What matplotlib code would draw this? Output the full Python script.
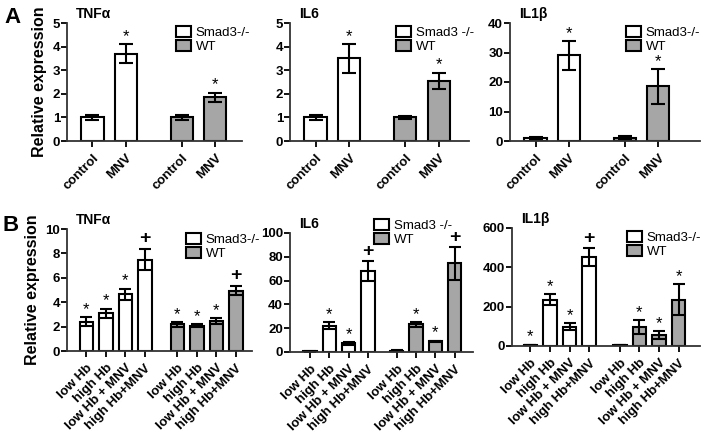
import numpy as np
import matplotlib
matplotlib.use("Agg")
import matplotlib.pyplot as plt

plt.rcParams['font.family'] = ['Liberation Sans', 'DejaVu Sans']

# ---- Daten Panel A ----
a_labels = ["control", "MNV"]
a_tnf_smad = [1.0, 3.7]
a_tnf_smad_err = [0.12, 0.4]
a_tnf_wt = [1.0, 1.85]
a_tnf_wt_err = [0.1, 0.2]
a_tnf_smad_mark = ["", "*"]
a_tnf_wt_mark = ["", "*"]

a_il6_smad = [1.0, 3.5]
a_il6_smad_err = [0.12, 0.6]
a_il6_wt = [1.0, 2.55]
a_il6_wt_err = [0.05, 0.35]
a_il6_smad_mark = ["", "*"]
a_il6_wt_mark = ["", "*"]

a_il1_smad = [1.0, 29.0]
a_il1_smad_err = [0.3, 4.8]
a_il1_wt = [1.0, 18.5]
a_il1_wt_err = [0.7, 6.0]
a_il1_smad_mark = ["", "*"]
a_il1_wt_mark = ["", "*"]

# ---- Daten Panel B ----
b_labels = ["low Hb", "high Hb", "low Hb + MNV", "high Hb+MNV"]
b_tnf_smad = [2.4, 3.08, 4.67, 7.5]
b_tnf_smad_err = [0.38, 0.4, 0.45, 0.9]
b_tnf_wt = [2.2, 2.09, 2.47, 4.95]
b_tnf_wt_err = [0.2, 0.15, 0.25, 0.4]
b_tnf_smad_mark = ["*", "*", "*", "+"]
b_tnf_wt_mark = ["*", "*", "*", "+"]

b_il6_smad = [0.5, 22.0, 7.5, 68.0]
b_il6_smad_err = [0.2, 2.8, 1.2, 8.4]
b_il6_wt = [1.0, 23.4, 8.9, 74.4]
b_il6_wt_err = [0.3, 2.0, 0.7, 13.6]
b_il6_smad_mark = ["", "*", "*", "+"]
b_il6_wt_mark = ["", "*", "*", "+"]

b_il1_smad = [5.0, 236.0, 98.0, 452.0]
b_il1_smad_err = [2.0, 28.0, 17.0, 45.0]
b_il1_wt = [5.0, 98.0, 56.0, 236.0]
b_il1_wt_err = [2.0, 36.0, 22.0, 78.0]
b_il1_smad_mark = ["*", "*", "*", "+"]
b_il1_wt_mark = ["", "*", "*", "*"]

W = 704
H = 432
grau = "#a6a6a6"

fig = plt.figure(figsize=(7.04, 4.32), dpi=100)


def achse(x0, x1, y_top, y_bot):
    """Achse aus Pixelkoordinaten"""
    return fig.add_axes([x0 / W, 1 - y_bot / H, (x1 - x0) / W, (y_bot - y_top) / H])


def marke(ax, x, y, m):
    if m == "":
        return
    if m == "+":
        ax.annotate(m, (x, y), xytext=(0, 1), textcoords="offset points",
                    ha="center", va="bottom", fontsize=14, fontweight="bold")
    else:
        ax.annotate(m, (x, y), xytext=(0, 0), textcoords="offset points",
                    ha="center", va="bottom", fontsize=12)


def panel(ax, labels, smad, smad_err, wt, wt_err, smad_m, wt_m, gap,
          width, ymax, ystep, xlim, titel, leg_text, leg_pos, cap):
    n = len(labels)
    pos_s = np.arange(n)
    pos_w = np.arange(n) + n - 1 + gap
    b1 = ax.bar(pos_s, smad, width, color="white", edgecolor="black", linewidth=1.5,
                yerr=smad_err, error_kw=dict(elinewidth=1.5, capsize=cap, capthick=1.5),
                label=leg_text)
    b2 = ax.bar(pos_w, wt, width, color=grau, edgecolor="black", linewidth=1.5,
                yerr=wt_err, error_kw=dict(elinewidth=1.5, capsize=cap, capthick=1.5),
                label="WT")
    for i in range(n):
        marke(ax, pos_s[i], smad[i] + smad_err[i], smad_m[i])
        marke(ax, pos_w[i], wt[i] + wt_err[i], wt_m[i])
    ax.set_ylim(0, ymax)
    ax.set_yticks(np.arange(0, ymax + ystep / 2, ystep))
    ax.set_xlim(xlim)
    ax.set_xticks(np.concatenate([pos_s, pos_w]))
    ax.set_xticklabels(labels + labels, rotation=45, ha="right",
                       rotation_mode="anchor", fontweight="bold", fontsize=9.5)
    for t in ax.get_yticklabels():
        t.set_fontweight("bold")
        t.set_fontsize(9.5)
    ax.spines["top"].set_visible(False)
    ax.spines["right"].set_visible(False)
    ax.spines["left"].set_linewidth(1.3)
    ax.spines["bottom"].set_linewidth(1.3)
    ax.spines["left"].set_color("#333333")
    ax.spines["bottom"].set_color("#333333")
    ax.tick_params(axis="both", direction="out", length=4, width=1.3, pad=1)
    ax.tick_params(axis="x", pad=4)
    ax.text(0.05, 1.02, titel, transform=ax.transAxes, fontsize=10,
            fontweight="bold", ha="left", va="bottom")
    ax.legend(handles=[b1, b2], loc="upper left",
              bbox_to_anchor=(leg_pos[0] / W, 1 - leg_pos[1] / H),
              bbox_transform=fig.transFigure, frameon=False, fontsize=9.5,
              handlelength=1.1, handleheight=0.9, handletextpad=0.4,
              labelspacing=0.1, borderpad=0, borderaxespad=0)


# Panel A
ax = achse(67, 242, 23, 141)
panel(ax, a_labels, a_tnf_smad, a_tnf_smad_err, a_tnf_wt, a_tnf_wt_err,
      a_tnf_smad_mark, a_tnf_wt_mark, 1.66, 0.66, 5, 1, (-0.76, 4.46),
      "TNFα", "Smad3-/-", (176, 26), 5)
ax.set_ylabel("Relative expression", fontsize=11.5, fontweight="bold")

ax = achse(290, 469, 23, 141)
panel(ax, a_labels, a_il6_smad, a_il6_smad_err, a_il6_wt, a_il6_wt_err,
      a_il6_smad_mark, a_il6_wt_mark, 1.66, 0.66, 5, 1, (-0.76, 4.55),
      "IL6", "Smad3 -/-", (396, 26), 5)

ax = achse(510, 700, 23, 141)
panel(ax, a_labels, a_il1_smad, a_il1_smad_err, a_il1_wt, a_il1_wt_err,
      a_il1_smad_mark, a_il1_wt_mark, 1.66, 0.66, 40, 10, (-0.76, 4.9),
      "IL1β", "Smad3-/-", (626, 26), 5)

# Panel B
ax = achse(67, 252, 229, 351)
panel(ax, b_labels, b_tnf_smad, b_tnf_smad_err, b_tnf_wt, b_tnf_wt_err,
      b_tnf_smad_mark, b_tnf_wt_mark, 1.67, 0.69, 10, 2, (-1.0, 8.5),
      "TNFα", "Smad3-/-", (186, 233), 4)
ax.set_ylabel("Relative expression", fontsize=11.5, fontweight="bold")

ax = achse(290, 473, 233, 352)
panel(ax, b_labels, b_il6_smad, b_il6_smad_err, b_il6_wt, b_il6_wt_err,
      b_il6_smad_mark, b_il6_wt_mark, 1.5, 0.69, 100, 20, (-1.04, 8.45),
      "IL6", "Smad3 -/-", (374, 219), 4)

ax = achse(512, 700, 228, 346)
panel(ax, b_labels, b_il1_smad, b_il1_smad_err, b_il1_wt, b_il1_wt_err,
      b_il1_smad_mark, b_il1_wt_mark, 1.56, 0.69, 600, 200, (-0.94, 8.65),
      "IL1β", "Smad3-/-", (627, 231), 4)

fig.text(4 / W, 1 - 7 / H, "A", fontsize=16, fontweight="bold", va="top")
fig.text(3 / W, 1 - 215 / H, "B", fontsize=16, fontweight="bold", va="top")

plt.savefig("out.png", dpi=100)
